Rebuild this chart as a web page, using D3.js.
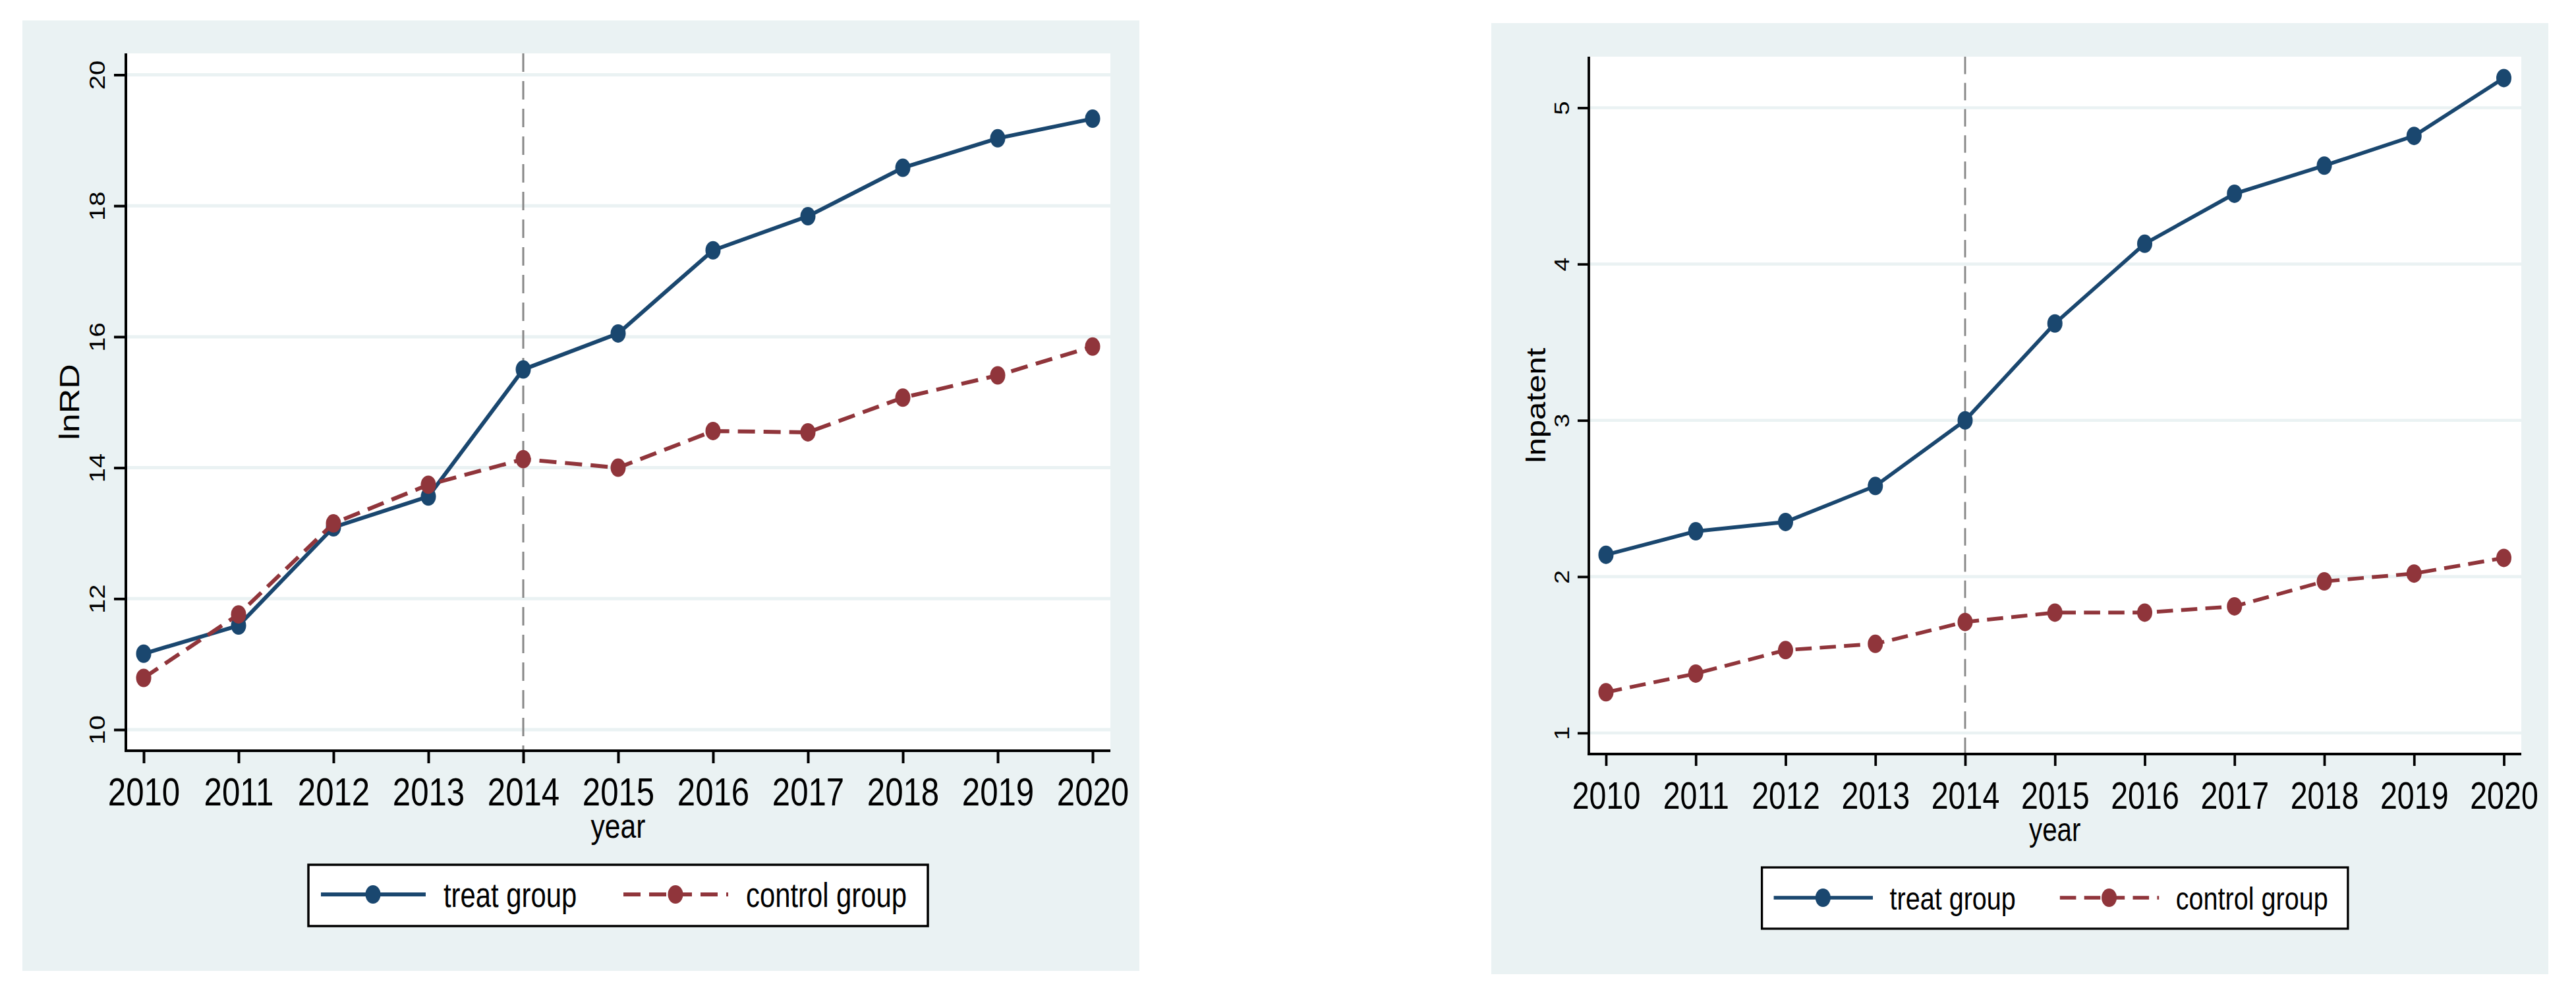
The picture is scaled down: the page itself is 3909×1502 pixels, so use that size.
<!DOCTYPE html>
<html>
<head>
<meta charset="utf-8">
<script src="https://cdn.jsdelivr.net/npm/d3@7"></script>
<style>
  body { margin: 0; background: #fff; }
  text { font-family: "Liberation Sans", Arial, sans-serif; fill: #000; }
</style>
</head>
<body>
<div class="canvas"></div>
<script>
// Data
const years = [2010, 2011, 2012, 2013, 2014, 2015, 2016, 2017, 2018, 2019, 2020];
const seriesNames = ['treat group', 'control group'];
const rdTreat = [11.16, 11.59, 13.09, 13.56, 15.50, 16.05, 17.32, 17.84, 18.58, 19.03, 19.33];
const rdControl = [10.79, 11.76, 13.15, 13.74, 14.13, 14.00, 14.56, 14.54, 15.07, 15.41, 15.85];
const patentTreat = [2.14, 2.29, 2.35, 2.58, 3.00, 3.62, 4.13, 4.45, 4.63, 4.82, 5.19];
const patentControl = [1.26, 1.38, 1.53, 1.57, 1.71, 1.77, 1.77, 1.81, 1.97, 2.02, 2.12];
const rdTicks = [10, 12, 14, 16, 18, 20];
const patentTicks = [1, 2, 3, 4, 5];
const policyYear = 2014;

// Stata s2color look
const bgColor = '#eaf2f3';
const colors = ['#1a476f', '#90353b'];
const dashes = [null, '26,13'];
const squeeze = 0.82; // the picture is squashed horizontally

const svg = d3.select('.canvas')
    .append('svg')
        .attr('width', 3909)
        .attr('height', 1502)

function drawPanel(opt) {
    const k = opt.k;
    const [bx0, by0, bx1, by1] = opt.bg;
    const [px0, py0, px1, py1] = opt.plot;
    const g = svg.append('g');

    const x = d3.scaleLinear().domain([2010, 2020]).range(opt.xRange);
    const y = d3.scaleLinear().domain(opt.yDomain).range(opt.yRange);

    // backgrounds
    g.append('rect')
        .attr('x', bx0).attr('y', by0)
        .attr('width', bx1 - bx0).attr('height', by1 - by0)
        .attr('fill', bgColor);
    g.append('rect')
        .attr('x', px0).attr('y', py0)
        .attr('width', px1 - px0).attr('height', py1 - py0)
        .attr('fill', '#fff');

    // gridlines
    g.selectAll('.grid')
        .data(opt.yTicks)
        .enter().append('line')
            .attr('x1', px0).attr('x2', px1)
            .attr('y1', d => y(d)).attr('y2', d => y(d))
            .attr('stroke', bgColor)
            .attr('stroke-width', 5 * k);

    // policy year line
    g.append('line')
        .attr('x1', x(policyYear)).attr('x2', x(policyYear))
        .attr('y1', py0).attr('y2', py1)
        .attr('stroke', '#878787')
        .attr('stroke-width', 3 * k)
        .attr('stroke-dasharray', `${28 * k},${14 * k}`);

    // x axis
    const xAxis = g.append('g')
        .attr('transform', `translate(0, ${py1})`)
        .call(d3.axisBottom(x).tickValues(years).tickFormat(d3.format('d'))
            .tickSize(19 * k).tickSizeOuter(0));
    xAxis.select('.domain').remove();
    xAxis.selectAll('.tick line').attr('stroke', '#000').attr('stroke-width', 4 * k);
    xAxis.selectAll('.tick text')
        .attr('y', opt.xLabelBase - py1).attr('dy', null)
        .attr('transform', `scale(${squeeze},1)`)
        .attr('font-size', 60 * k)
        .attr('font-family', '"Liberation Sans", Arial, sans-serif');

    // y axis
    const yAxis = g.append('g')
        .attr('transform', `translate(${px0}, 0)`)
        .call(d3.axisLeft(y).tickValues(opt.yTicks).tickFormat(d3.format('d'))
            .tickSize(18 * k).tickSizeOuter(0));
    yAxis.select('.domain').remove();
    yAxis.selectAll('.tick line').attr('stroke', '#000').attr('stroke-width', 4 * k);
    yAxis.selectAll('.tick text')
        .attr('x', null).attr('dy', null)
        .attr('text-anchor', 'middle')
        .attr('transform', `translate(${-32 * k},0) scale(${squeeze},1) rotate(-90)`)
        .attr('font-size', 40 * k)
        .attr('font-family', '"Liberation Sans", Arial, sans-serif');

    // axis lines
    g.append('line')
        .attr('x1', px0).attr('x2', px0).attr('y1', py0).attr('y2', py1 + 2 * k)
        .attr('stroke', '#000').attr('stroke-width', 4 * k);
    g.append('line')
        .attr('x1', px0 - 2 * k).attr('x2', px1).attr('y1', py1).attr('y2', py1)
        .attr('stroke', '#000').attr('stroke-width', 4 * k);

    // titles
    g.append('text')
        .attr('transform', `translate(${opt.titleX}, ${(py0 + py1) / 2}) scale(${squeeze},1) rotate(-90)`)
        .attr('text-anchor', 'middle')
        .attr('font-size', 52 * k)
        .text(opt.yTitle);
    g.append('text')
        .attr('transform', `translate(${(opt.xRange[0] + opt.xRange[1]) / 2}, ${opt.yearBase}) scale(${squeeze},1)`)
        .attr('text-anchor', 'middle')
        .attr('font-size', 52 * k)
        .text('year');

    // series
    const line = d3.line()
        .x((d, i) => x(years[i]))
        .y(d => y(d));

    opt.series.forEach((vals, s) => {
        g.append('path')
            .attr('d', line(vals))
            .attr('fill', 'none')
            .attr('stroke', colors[s])
            .attr('stroke-width', 6 * k)
            .attr('stroke-dasharray', dashes[s] ? dashes[s].split(',').map(v => v * k).join(',') : null);
        g.selectAll(`.m${s}`)
            .data(vals)
            .enter().append('ellipse')
                .attr('cx', (d, i) => x(years[i]))
                .attr('cy', d => y(d))
                .attr('rx', 11.5)
                .attr('ry', 14)
                .attr('fill', colors[s]);
    });

    // legend
    const cx = (opt.xRange[0] + opt.xRange[1]) / 2;
    const lw = 940 * k;
    const lx = cx - lw / 2;
    g.append('rect')
        .attr('x', lx).attr('y', opt.legend[0])
        .attr('width', lw).attr('height', opt.legend[1] - opt.legend[0])
        .attr('fill', '#fff')
        .attr('stroke', '#000')
        .attr('stroke-width', 3.5 * k);

    const items = g.selectAll('.leg')
        .data(seriesNames)
        .enter().append('g')
            .attr('transform', (d, i) => `translate(${lx + (19 + 459 * i) * k}, ${opt.legendRow})`);
    items.append('line')
        .attr('x1', 0).attr('x2', 159 * k)
        .attr('stroke', (d, i) => colors[i])
        .attr('stroke-width', 6 * k)
        .attr('stroke-dasharray', (d, i) => dashes[i] ? dashes[i].split(',').map(v => v * k).join(',') : null);
    items.append('ellipse')
        .attr('cx', 79 * k)
        .attr('rx', 11.5).attr('ry', 14)
        .attr('fill', (d, i) => colors[i]);
    items.append('text')
        .attr('transform', `translate(${186 * k}, ${opt.legendBase - opt.legendRow}) scale(${squeeze},1)`)
        .attr('font-size', 51 * k)
        .text(d => d);
}

drawPanel({
    k: 1,
    bg: [34, 31, 1729, 1473],
    plot: [191, 81, 1685, 1139],
    xRange: [218, 1658],
    yDomain: [10, 20],
    yRange: [1107, 113.5],
    yTicks: rdTicks,
    yTitle: 'lnRD',
    titleX: 120,
    xLabelBase: 1222,
    yearBase: 1271,
    legend: [1312, 1405],
    legendRow: 1357,
    legendBase: 1376,
    series: [rdTreat, rdControl]
});

drawPanel({
    k: 0.946,
    bg: [2263, 35, 3867, 1478],
    plot: [2411, 86, 3826, 1144],
    xRange: [2437, 3799.5],
    yDomain: [1, 5],
    yRange: [1112, 163.5],
    yTicks: patentTicks,
    yTitle: 'lnpatent',
    titleX: 2345,
    xLabelBase: 1227,
    yearBase: 1276,
    legend: [1316, 1409],
    legendRow: 1362,
    legendBase: 1380,
    series: [patentTreat, patentControl]
});
</script>
</body>
</html>
